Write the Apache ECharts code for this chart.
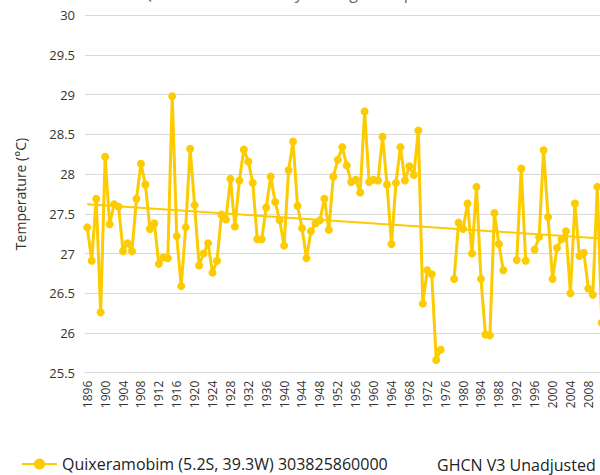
<!DOCTYPE html>
<html>
<head>
<meta charset="utf-8">
<script src="https://cdn.jsdelivr.net/npm/echarts@6/dist/echarts.min.js"></script>
<style>
  html, body { margin: 0; padding: 0; background: #fff; overflow: hidden; }
  #chart { position: absolute; left: 0; top: -20px; width: 700px; height: 495px; }
</style>
</head>
<body>
<div id="chart"></div>
<script>
// yearly mean temperature, GHCN V3 unadjusted
const years = []
for (let y = 1896; y <= 2011; y++) years.push(String(y))

const temps = [
  27.33, 26.91, 27.69, 26.26, 28.22, 27.37, 27.62, 27.59, 27.03, 27.13, // 1896-1905
  27.03, 27.69, 28.13, 27.87, 27.31, 27.38, 26.87, 26.95, 26.94, 28.98, // 1906-1915
  27.22, 26.59, 27.33, 28.32, 27.61, 26.85, 27.00, 27.13, 26.76, 26.91, // 1916-1925
  27.49, 27.43, 27.94, 27.34, 27.92, 28.31, 28.16, 27.89, 27.18, 27.18, // 1926-1935
  27.58, 27.97, 27.65, 27.42, 27.10, 28.05, 28.41, 27.60, 27.32, 26.94, // 1936-1945
  27.28, 27.38, 27.42, 27.69, 27.30, 27.97, 28.18, 28.34, 28.11, 27.90, // 1946-1955
  27.93, 27.77, 28.79, 27.90, 27.93, 27.92, 28.47, 27.87, 27.12, 27.89, // 1956-1965
  28.34, 27.92, 28.10, 27.99, 28.55, 26.37, 26.79, 26.74, 25.66, 25.79, // 1966-1975
  null, null, 26.68, 27.39, 27.31, 27.63, 27.00, 27.84, 26.68, 25.98,   // 1976-1985
  25.97, 27.51, 27.12, 26.79, null, null, 26.92, 28.07, 26.91, null,    // 1986-1995
  27.05, 27.21, 28.30, 27.46, 26.68, 27.07, 27.18, 27.28, 26.50, 27.63, // 1996-2005
  26.97, 27.01, 26.56, 26.48, 27.84, 26.13                              // 2006-2011
]

// linear trend line, value at the first and the last year
const trendEnds = [27.62, 27.19]

const seriesName = 'Quixeramobim (5.2S, 39.3W) 303825860000'
const yellow = '#FCCB00'

const chart = echarts.init(document.getElementById('chart'), null, { renderer: 'svg' })

const trendData = years.map((y, i) => {
  if (i === 0) return trendEnds[0]
  if (i === years.length - 1) return trendEnds[1]
  return null
})

const option = {
  animation: false,
  textStyle: { fontFamily: 'Open Sans, Liberation Sans, sans-serif' },
  grid: {
    left: 85,
    top: 35.3,
    width: 519,
    height: 357.4
  },
  legend: {
    data: [seriesName],
    left: 16,
    top: 471,
    itemWidth: 35,
    itemHeight: 14,
    textStyle: { fontSize: 16, color: '#222', fontFamily: 'Open Sans' }
  },
  graphic: [
    {
      type: 'text',
      x: 305,
      y: 21,
      style: {
        text: 'Quixeramobim Yearly Average Temperature',
        font: '16px "Open Sans"',
        fill: '#666',
        textAlign: 'center',
        textVerticalAlign: 'bottom'
      }
    },
    {
      type: 'text',
      x: 437,
      y: 485,
      style: {
        text: 'GHCN V3 Unadjusted',
        font: '16px "Open Sans"',
        fill: '#222',
        textAlign: 'left',
        textVerticalAlign: 'middle'
      }
    }
  ],
  xAxis: {
    type: 'category',
    data: years,
    boundaryGap: true,
    axisLine: { lineStyle: { color: '#d9d9d9' } },
    axisTick: { show: false },
    axisLabel: {
      interval: 3,
      rotate: 90,
      fontSize: 12,
      color: '#333',
      margin: 8
    }
  },
  yAxis: {
    type: 'value',
    min: 25.5,
    max: 30,
    interval: 0.5,
    name: 'Temperature (°C)',
    nameLocation: 'middle',
    nameGap: 58,
    nameTextStyle: { fontSize: 14, color: '#333' },
    axisLine: { show: false },
    axisTick: { show: false },
    axisLabel: { fontSize: 13, color: '#333', margin: 10 },
    splitLine: { lineStyle: { color: '#d9d9d9' } }
  },
  series: [
    {
      name: seriesName,
      type: 'line',
      data: temps,
      symbol: 'circle',
      symbolSize: 8,
      showAllSymbol: true,
      itemStyle: { color: yellow },
      lineStyle: { color: yellow, width: 3 }
    },
    {
      name: 'trend',
      type: 'line',
      data: trendData,
      connectNulls: true,
      symbol: 'none',
      lineStyle: { color: yellow, width: 2 }
    }
  ]
}

chart.setOption(option)
</script>
</body>
</html>
